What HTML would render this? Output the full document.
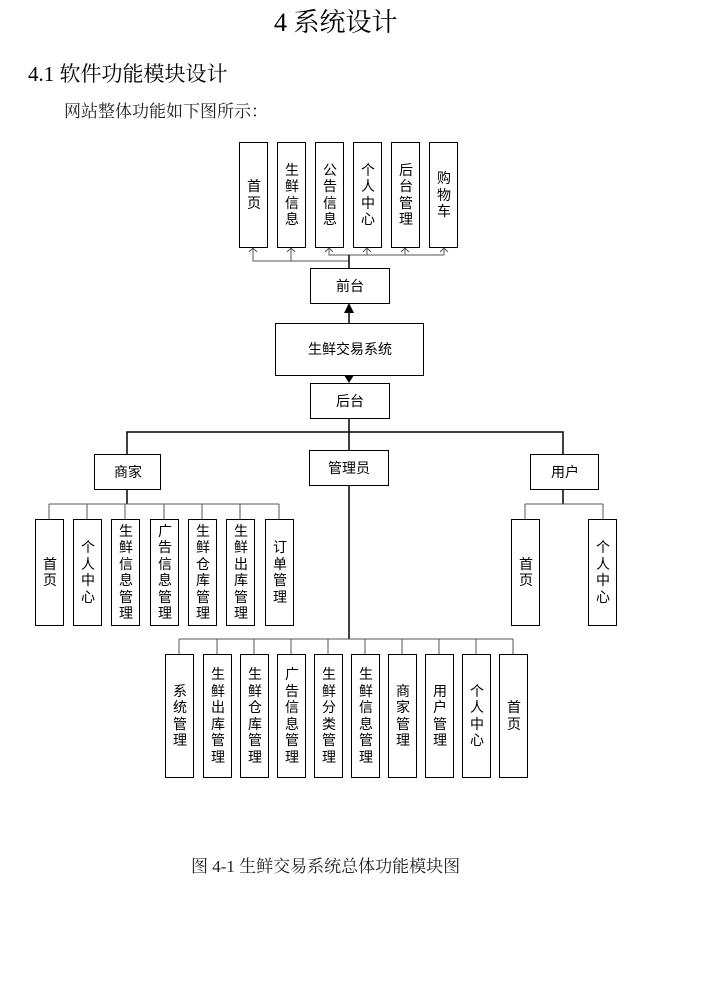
<!DOCTYPE html>
<html><head><meta charset="utf-8"><style>
html,body{margin:0;padding:0;background:#fff;}
body{width:726px;height:985px;position:relative;overflow:hidden;}
svg{position:absolute;left:0;top:0;}
.s{font-family:"Liberation Sans","Noto Sans CJK SC",sans-serif;font-size:14px;fill:#000;}
.r{font-family:"Liberation Serif","Noto Serif CJK SC",serif;}
</style></head><body>
<svg width="726" height="985" viewBox="0 0 726 985" xmlns="http://www.w3.org/2000/svg">
<text x="274" y="31" class="r" font-size="26" fill="#000">4 系统设计</text>
<text x="28" y="81" class="r" font-size="21" fill="#000">4.1  软件功能模块设计</text>
<text x="64" y="117" class="r" font-size="17" fill="#222">网站整体功能如下图所示：</text>
<text x="191" y="872" class="r" font-size="17" fill="#222">图 4-1 生鲜交易系统总体功能模块图</text>

<g fill="none" stroke="#555" stroke-width="1">
<!-- top connectors -->
<polyline points="253,248 253,261 349,261"/>
<polyline points="291,248 291,261"/>
<polyline points="329,248 329,255 444,255"/>
<line x1="367" y1="248" x2="367" y2="255"/>
<line x1="405" y1="248" x2="405" y2="255"/>
<line x1="444" y1="248" x2="444" y2="255"/>
<!-- open arrowheads -->
<polyline points="249,252 253,248 257,252"/>
<polyline points="287,252 291,248 295,252"/>
<polyline points="325,252 329,248 333,252"/>
<polyline points="363,252 367,248 371,252"/>
<polyline points="401,252 405,248 409,252"/>
<polyline points="440,252 444,248 448,252"/>
</g>
<g stroke="#000" stroke-width="1.5" fill="none">
<line x1="349" y1="255" x2="349" y2="268"/>
<line x1="349" y1="310" x2="349" y2="323"/>
<line x1="349" y1="418" x2="349" y2="450"/>
<line x1="349" y1="485" x2="349" y2="639"/>
<polyline points="127,454 127,432 563,432 563,454"/>
<line x1="127" y1="489" x2="127" y2="504"/>
<line x1="563" y1="489" x2="563" y2="504"/>
</g>
<g stroke="#555" stroke-width="1" fill="none">
<line x1="49" y1="504" x2="279" y2="504"/>
<line x1="49" y1="504" x2="49" y2="519"/><line x1="87" y1="504" x2="87" y2="519"/><line x1="125" y1="504" x2="125" y2="519"/><line x1="164" y1="504" x2="164" y2="519"/><line x1="202" y1="504" x2="202" y2="519"/><line x1="240" y1="504" x2="240" y2="519"/><line x1="279" y1="504" x2="279" y2="519"/>
<line x1="525" y1="504" x2="603" y2="504"/>
<line x1="525" y1="504" x2="525" y2="519"/><line x1="603" y1="504" x2="603" y2="519"/>
<line x1="179" y1="639" x2="513" y2="639"/>
<line x1="179" y1="639" x2="179" y2="654"/><line x1="217" y1="639" x2="217" y2="654"/><line x1="254" y1="639" x2="254" y2="654"/><line x1="291" y1="639" x2="291" y2="654"/><line x1="328" y1="639" x2="328" y2="654"/><line x1="365" y1="639" x2="365" y2="654"/><line x1="402" y1="639" x2="402" y2="654"/><line x1="439" y1="639" x2="439" y2="654"/><line x1="476" y1="639" x2="476" y2="654"/><line x1="513" y1="639" x2="513" y2="654"/>
</g>
<polygon points="349,303 344,313 354,313" fill="#000"/>
<polygon points="349,383 344,375 354,375" fill="#000"/>

<g fill="#fff" stroke="#000" stroke-width="1">
<rect x="239.5" y="142.5" width="28" height="105"/>
<rect x="277.5" y="142.5" width="28" height="105"/>
<rect x="315.5" y="142.5" width="28" height="105"/>
<rect x="353.5" y="142.5" width="28" height="105"/>
<rect x="391.5" y="142.5" width="28" height="105"/>
<rect x="429.5" y="142.5" width="28" height="105"/>
<rect x="310.5" y="268.5" width="79" height="35"/>
<rect x="275.5" y="323.5" width="148" height="52"/>
<rect x="310.5" y="383.5" width="79" height="35"/>
<rect x="94.5" y="454.5" width="66" height="35"/>
<rect x="309.5" y="450.5" width="79" height="35"/>
<rect x="530.5" y="454.5" width="68" height="35"/>
<rect x="35.5" y="519.5" width="28" height="106"/>
<rect x="73.5" y="519.5" width="28" height="106"/>
<rect x="111.5" y="519.5" width="28" height="106"/>
<rect x="150.5" y="519.5" width="28" height="106"/>
<rect x="188.5" y="519.5" width="28" height="106"/>
<rect x="226.5" y="519.5" width="28" height="106"/>
<rect x="265.5" y="519.5" width="28" height="106"/>
<rect x="511.5" y="519.5" width="28" height="106"/>
<rect x="588.5" y="519.5" width="28" height="106"/>
<rect x="165.5" y="654.5" width="28" height="123"/>
<rect x="203.5" y="654.5" width="28" height="123"/>
<rect x="240.5" y="654.5" width="28" height="123"/>
<rect x="277.5" y="654.5" width="28" height="123"/>
<rect x="314.5" y="654.5" width="28" height="123"/>
<rect x="351.5" y="654.5" width="28" height="123"/>
<rect x="388.5" y="654.5" width="28" height="123"/>
<rect x="425.5" y="654.5" width="28" height="123"/>
<rect x="462.5" y="654.5" width="28" height="123"/>
<rect x="499.5" y="654.5" width="28" height="123"/>
</g>

<g class="s" text-anchor="middle">
<text x="350" y="291">前台</text>
<text x="350" y="354">生鲜交易系统</text>
<text x="350" y="406">后台</text>
<text x="128" y="477">商家</text>
<text x="349" y="473">管理员</text>
<text x="565" y="477">用户</text>

<!-- top row -->
<text><tspan x="254" y="191">首</tspan><tspan x="254" y="208">页</tspan></text>
<text><tspan x="292" y="175">生</tspan><tspan x="292" y="191">鲜</tspan><tspan x="292" y="208">信</tspan><tspan x="292" y="224">息</tspan></text>
<text><tspan x="330" y="175">公</tspan><tspan x="330" y="191">告</tspan><tspan x="330" y="208">信</tspan><tspan x="330" y="224">息</tspan></text>
<text><tspan x="368" y="175">个</tspan><tspan x="368" y="191">人</tspan><tspan x="368" y="208">中</tspan><tspan x="368" y="224">心</tspan></text>
<text><tspan x="406" y="175">后</tspan><tspan x="406" y="191">台</tspan><tspan x="406" y="208">管</tspan><tspan x="406" y="224">理</tspan></text>
<text><tspan x="444" y="183">购</tspan><tspan x="444" y="200">物</tspan><tspan x="444" y="216">车</tspan></text>

<!-- merchant row -->
<text><tspan x="50" y="569">首</tspan><tspan x="50" y="585">页</tspan></text>
<text><tspan x="88" y="552">个</tspan><tspan x="88" y="569">人</tspan><tspan x="88" y="585">中</tspan><tspan x="88" y="602">心</tspan></text>
<text><tspan x="126" y="536">生</tspan><tspan x="126" y="552">鲜</tspan><tspan x="126" y="569">信</tspan><tspan x="126" y="585">息</tspan><tspan x="126" y="602">管</tspan><tspan x="126" y="618">理</tspan></text>
<text><tspan x="165" y="536">广</tspan><tspan x="165" y="552">告</tspan><tspan x="165" y="569">信</tspan><tspan x="165" y="585">息</tspan><tspan x="165" y="602">管</tspan><tspan x="165" y="618">理</tspan></text>
<text><tspan x="203" y="536">生</tspan><tspan x="203" y="552">鲜</tspan><tspan x="203" y="569">仓</tspan><tspan x="203" y="585">库</tspan><tspan x="203" y="602">管</tspan><tspan x="203" y="618">理</tspan></text>
<text><tspan x="241" y="536">生</tspan><tspan x="241" y="552">鲜</tspan><tspan x="241" y="569">出</tspan><tspan x="241" y="585">库</tspan><tspan x="241" y="602">管</tspan><tspan x="241" y="618">理</tspan></text>
<text><tspan x="280" y="552">订</tspan><tspan x="280" y="569">单</tspan><tspan x="280" y="585">管</tspan><tspan x="280" y="602">理</tspan></text>

<!-- user row -->
<text><tspan x="526" y="569">首</tspan><tspan x="526" y="585">页</tspan></text>
<text><tspan x="603" y="552">个</tspan><tspan x="603" y="569">人</tspan><tspan x="603" y="585">中</tspan><tspan x="603" y="602">心</tspan></text>

<!-- admin row -->
<text><tspan x="180" y="696">系</tspan><tspan x="180" y="712">统</tspan><tspan x="180" y="729">管</tspan><tspan x="180" y="745">理</tspan></text>
<text><tspan x="218" y="679">生</tspan><tspan x="218" y="696">鲜</tspan><tspan x="218" y="712">出</tspan><tspan x="218" y="729">库</tspan><tspan x="218" y="745">管</tspan><tspan x="218" y="762">理</tspan></text>
<text><tspan x="255" y="679">生</tspan><tspan x="255" y="696">鲜</tspan><tspan x="255" y="712">仓</tspan><tspan x="255" y="729">库</tspan><tspan x="255" y="745">管</tspan><tspan x="255" y="762">理</tspan></text>
<text><tspan x="292" y="679">广</tspan><tspan x="292" y="696">告</tspan><tspan x="292" y="712">信</tspan><tspan x="292" y="729">息</tspan><tspan x="292" y="745">管</tspan><tspan x="292" y="762">理</tspan></text>
<text><tspan x="329" y="679">生</tspan><tspan x="329" y="696">鲜</tspan><tspan x="329" y="712">分</tspan><tspan x="329" y="729">类</tspan><tspan x="329" y="745">管</tspan><tspan x="329" y="762">理</tspan></text>
<text><tspan x="366" y="679">生</tspan><tspan x="366" y="696">鲜</tspan><tspan x="366" y="712">信</tspan><tspan x="366" y="729">息</tspan><tspan x="366" y="745">管</tspan><tspan x="366" y="762">理</tspan></text>
<text><tspan x="403" y="696">商</tspan><tspan x="403" y="712">家</tspan><tspan x="403" y="729">管</tspan><tspan x="403" y="745">理</tspan></text>
<text><tspan x="440" y="696">用</tspan><tspan x="440" y="712">户</tspan><tspan x="440" y="729">管</tspan><tspan x="440" y="745">理</tspan></text>
<text><tspan x="477" y="696">个</tspan><tspan x="477" y="712">人</tspan><tspan x="477" y="729">中</tspan><tspan x="477" y="745">心</tspan></text>
<text><tspan x="514" y="712">首</tspan><tspan x="514" y="729">页</tspan></text>
</g>
</svg>
</body></html>
